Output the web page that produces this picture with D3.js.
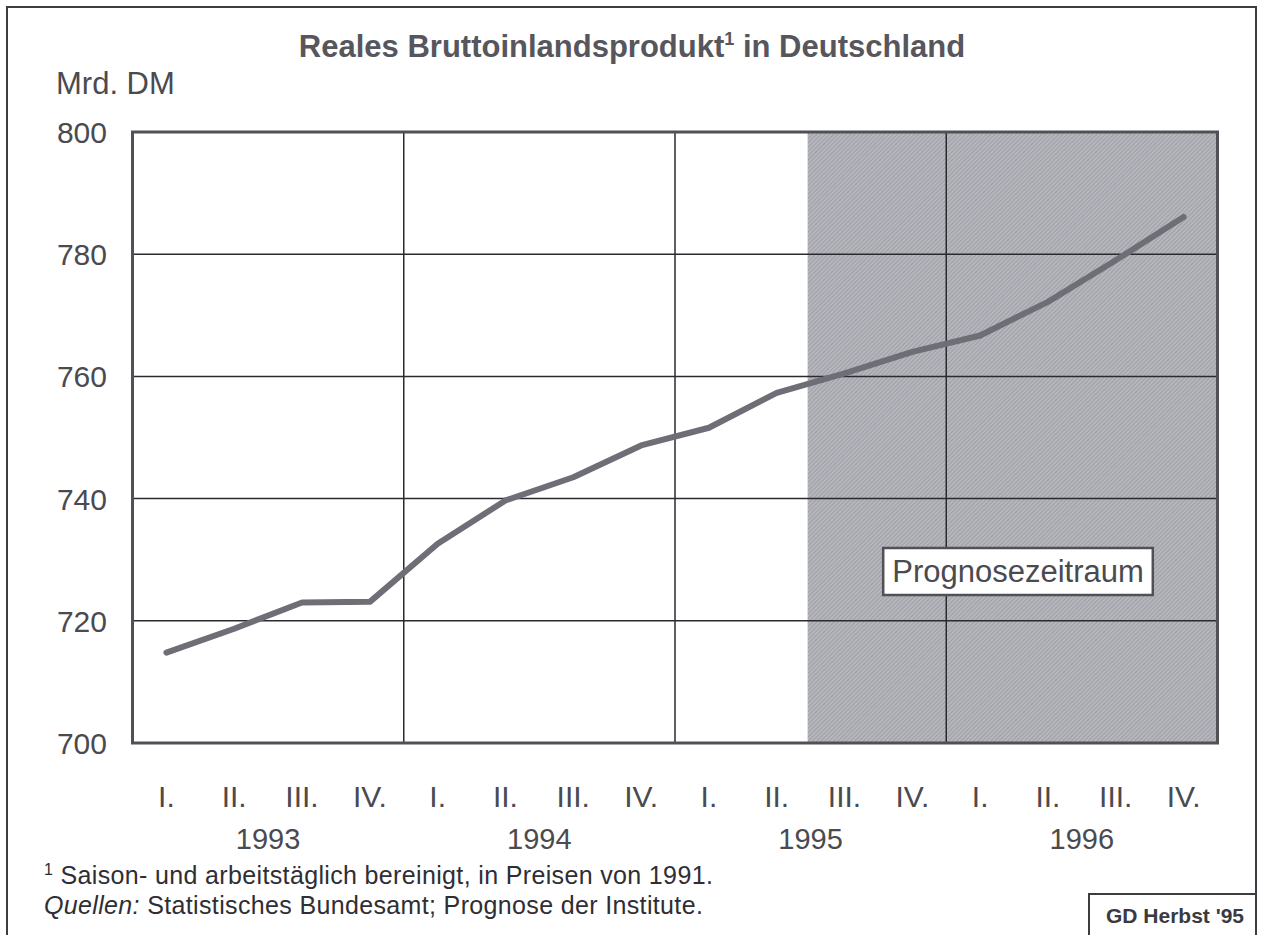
<!DOCTYPE html>
<html>
<head>
<meta charset="utf-8">
<script src="https://cdn.jsdelivr.net/npm/d3@7"></script>
<style>
  body { margin: 0; background: #fff; }
  svg text { font-family: "Liberation Sans", Arial, sans-serif; }
</style>
</head>
<body>
<svg id="chart" width="1262" height="935"></svg>
<script>
// Real GDP, Mrd. DM, quarterly 1993-1996
let quarters = ['I.', 'II.', 'III.', 'IV.'];
let years = ['1993', '1994', '1995', '1996'];
let gdp = [714.8, 718.7, 723.0, 723.1,
           732.6, 739.7, 743.5, 748.7,
           751.6, 757.3, 760.5, 764.0,
           766.7, 772.2, 779.0, 786.1];
let yTicks = [700, 720, 740, 760, 780, 800];
let forecastStart = 10; // from 1995 III.

let svg = d3.select('#chart');
let ink = '#4a4a50';

let sx = d3.scaleLinear().domain([0, 16]).range([132.5, 1217.5]);
let sy = d3.scaleLinear().domain([700, 800]).range([743, 132]);

// outer frame
svg.append('rect')
  .attr('x', 7).attr('y', 7)
  .attr('width', 1249).attr('height', 940)
  .attr('fill', 'none')
  .attr('stroke', '#3c3c42')
  .attr('stroke-width', 2);

// hatch pattern for forecast period
let defs = svg.append('defs');
let pat = defs.append('pattern')
  .attr('id', 'hatch')
  .attr('patternUnits', 'userSpaceOnUse')
  .attr('width', 3).attr('height', 3)
  .attr('patternTransform', 'rotate(45)');
pat.append('rect').attr('width', 3).attr('height', 3).attr('fill', '#b6b6bd');
pat.append('line')
  .attr('x1', 0).attr('y1', 0).attr('x2', 0).attr('y2', 3)
  .attr('stroke', '#8e8e96').attr('stroke-width', 1.2);

svg.append('rect')
  .attr('x', sx(forecastStart) - 3)
  .attr('y', sy(800))
  .attr('width', sx(16) - sx(forecastStart) + 3)
  .attr('height', sy(700) - sy(800))
  .attr('fill', 'url(#hatch)');

// gridlines
svg.selectAll('.hgrid')
  .data(yTicks.slice(1, -1))
  .enter()
  .append('line')
  .attr('class', 'hgrid')
  .attr('x1', sx(0)).attr('x2', sx(16))
  .attr('y1', d => sy(d)).attr('y2', d => sy(d))
  .attr('stroke', '#2a2a30')
  .attr('stroke-width', 1.5);

svg.selectAll('.vgrid')
  .data([4, 8, 12])
  .enter()
  .append('line')
  .attr('class', 'vgrid')
  .attr('x1', d => sx(d)).attr('x2', d => sx(d))
  .attr('y1', sy(800)).attr('y2', sy(700))
  .attr('stroke', '#2a2a30')
  .attr('stroke-width', 1.5);

// plot border
svg.append('rect')
  .attr('x', sx(0)).attr('y', sy(800))
  .attr('width', sx(16) - sx(0))
  .attr('height', sy(700) - sy(800))
  .attr('fill', 'none')
  .attr('stroke', '#505056')
  .attr('stroke-width', 3);

// forecast label
let note = svg.append('g');
let noteText = note.append('text')
  .attr('x', 1018).attr('y', 582)
  .attr('text-anchor', 'middle')
  .attr('font-size', 31)
  .attr('fill', ink)
  .text('Prognosezeitraum');
let bb = noteText.node().getBBox();
note.insert('rect', 'text')
  .attr('x', bb.x - 9).attr('y', 548)
  .attr('width', bb.width + 18).attr('height', 47)
  .attr('fill', '#fff')
  .attr('stroke', '#505056')
  .attr('stroke-width', 2.5);

// GDP line
let line = d3.line()
  .x((d, i) => sx(i + 0.5))
  .y(d => sy(d));

svg.append('path')
  .datum(gdp)
  .attr('d', line)
  .attr('fill', 'none')
  .attr('stroke', '#6e6f76')
  .attr('stroke-width', 6)
  .attr('stroke-linejoin', 'round')
  .attr('stroke-linecap', 'round');

// y labels
svg.selectAll('.ylab')
  .data(yTicks)
  .enter()
  .append('text')
  .attr('class', 'ylab')
  .attr('x', 107)
  .attr('y', d => sy(d) + 11)
  .attr('text-anchor', 'end')
  .attr('font-size', 30)
  .attr('fill', ink)
  .text(d => d);

svg.append('text')
  .attr('x', 56).attr('y', 94)
  .attr('font-size', 31)
  .attr('fill', ink)
  .text('Mrd. DM');

// x labels
svg.selectAll('.qlab')
  .data(gdp)
  .enter()
  .append('text')
  .attr('class', 'qlab')
  .attr('x', (d, i) => sx(i + 0.5))
  .attr('y', 807)
  .attr('text-anchor', 'middle')
  .attr('font-size', 30)
  .attr('fill', ink)
  .text((d, i) => quarters[i % 4]);

svg.selectAll('.ylabx')
  .data(years)
  .enter()
  .append('text')
  .attr('class', 'ylabx')
  .attr('x', (d, i) => sx(i * 4 + 2))
  .attr('y', 849)
  .attr('text-anchor', 'middle')
  .attr('font-size', 29)
  .attr('fill', ink)
  .text(d => d);

// title
let title = svg.append('text')
  .attr('x', 632).attr('y', 57)
  .attr('text-anchor', 'middle')
  .attr('font-size', 31)
  .attr('font-weight', 'bold')
  .attr('fill', '#56565c');
title.append('tspan').text('Reales Bruttoinlandsprodukt');
title.append('tspan').attr('dy', -12).attr('font-size', 18).text('1');
title.append('tspan').attr('dy', 12).text(' in Deutschland');

// footnotes
let fn = svg.append('text')
  .attr('x', 44).attr('y', 884)
  .attr('font-size', 25)
  .attr('letter-spacing', 0.35)
  .attr('fill', '#2e2e34');
fn.append('tspan').attr('dy', -9).attr('font-size', 16).text('1');
fn.append('tspan').attr('dy', 9).text(' Saison- und arbeitstäglich bereinigt, in Preisen von 1991.');

let src = svg.append('text')
  .attr('x', 44).attr('y', 914)
  .attr('font-size', 25)
  .attr('letter-spacing', 0.35)
  .attr('fill', '#2e2e34');
src.append('tspan').attr('font-style', 'italic').text('Quellen:');
src.append('tspan').text(' Statistisches Bundesamt; Prognose der Institute.');

// credit box
svg.append('rect')
  .attr('x', 1089).attr('y', 894)
  .attr('width', 167).attr('height', 50)
  .attr('fill', '#fff')
  .attr('stroke', '#3c3c42')
  .attr('stroke-width', 2);
svg.append('text')
  .attr('x', 1175).attr('y', 923)
  .attr('text-anchor', 'middle')
  .attr('font-size', 21)
  .attr('font-weight', 'bold')
  .attr('fill', '#3a3a40')
  .text("GD Herbst '95");
</script>
</body>
</html>
